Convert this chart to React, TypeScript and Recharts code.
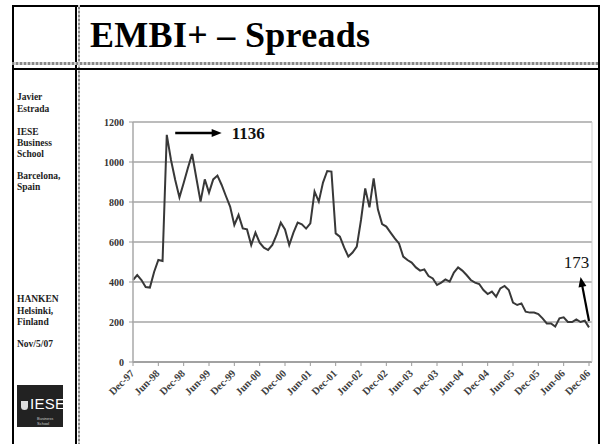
import { LineChart, Line, XAxis, YAxis, CartesianGrid, ReferenceLine } from 'recharts'

// EMBI+ spreads, monthly, Dec-97 .. Dec-06 (bp)
const spreads = [
  410, 435, 410, 375, 372, 450, 510, 505, 1136, 1010,
  910, 823, 895, 970, 1040, 920, 802, 913, 847, 913,
  932, 885, 830, 777, 685, 735, 668, 663, 585, 647,
  597, 572, 560, 585, 635, 697, 663, 585, 647, 697,
  688, 667, 693, 852, 802, 897, 955, 952, 643, 627,
  573, 527, 547, 577, 710, 868, 773, 918, 763, 690,
  677, 647, 618, 593, 527, 510, 497, 473, 457, 463,
  430, 418, 385, 397, 413, 402, 447, 473, 457, 435,
  410, 397, 390, 360, 340, 352, 327, 368, 380, 360,
  297, 285, 293, 252, 247, 247, 240, 218, 193, 193,
  177, 218, 223, 200, 200, 213, 200, 207, 173,
]

const monthNames = ['Jan', 'Feb', 'Mar', 'Apr', 'May', 'Jun', 'Jul', 'Aug', 'Sep', 'Oct', 'Nov', 'Dec']
const yTicks = [0, 200, 400, 600, 800, 1000, 1200]

// Dec-97 is month 11 of 1997
const months = spreads.map((_, i) => {
  const t = 11 + i
  const yr = (97 + Math.floor(t / 12)) % 100
  return `${monthNames[t % 12]}-${String(yr).padStart(2, '0')}`
})

const data = months.map((m, i) => ({ month: m, spread: spreads[i] }))

const peakLabel = '1136'
const lastLabel = '173'

const serif = "'Liberation Serif', 'DejaVu Serif', serif"

const sidebar = [
  { text: 'Javier', top: 92 },
  { text: 'Estrada', top: 104 },
  { text: 'IESE', top: 127 },
  { text: 'Business', top: 138 },
  { text: 'School', top: 149 },
  { text: 'Barcelona,', top: 171 },
  { text: 'Spain', top: 182 },
  { text: 'HANKEN', top: 294 },
  { text: 'Helsinki,', top: 306 },
  { text: 'Finland', top: 317 },
  { text: 'Nov/5/07', top: 339 },
]

const XTick = ({ x, y, payload }: any) => (
  <text
    x={x + 2}
    y={y + 6}
    transform={`rotate(-45 ${x + 2} ${y + 6})`}
    textAnchor="end"
    fontSize={10.5}
    fontWeight="bold"
    fontFamily={serif}
    fill="#404040"
  >
    {payload.value}
  </text>
)

const PeakArrow = (p: any) => (
  <g>
    <line x1={p.x1} y1={p.y1} x2={p.x2 - 8} y2={p.y2} stroke="#000" strokeWidth={2.5} />
    <polygon points={`${p.x2},${p.y2} ${p.x2 - 10},${p.y2 - 4} ${p.x2 - 10},${p.y2 + 4}`} fill="#000" />
    <text x={p.x2 + 10} y={p.y2 + 6} fontSize={17} fontWeight="bold" fontFamily={serif} fill="#111">
      {peakLabel}
    </text>
  </g>
)

const LastArrow = (p: any) => {
  const dx = p.x2 - p.x1
  const dy = p.y2 - p.y1
  const len = Math.sqrt(dx * dx + dy * dy)
  const ux = dx / len
  const uy = dy / len
  const bx = p.x2 - ux * 10
  const by = p.y2 - uy * 10
  return (
    <g>
      <line x1={p.x1} y1={p.y1} x2={p.x2 - ux * 8} y2={p.y2 - uy * 8} stroke="#000" strokeWidth={2.2} />
      <polygon
        points={`${p.x2},${p.y2} ${bx - uy * 4},${by + ux * 4} ${bx + uy * 4},${by - ux * 4}`}
        fill="#000"
      />
      <text x={p.x2 - 4} y={p.y2 - 9} textAnchor="middle" fontSize={17} fontFamily={serif} fill="#111">
        {lastLabel}
      </text>
    </g>
  )
}

export default function App() {
  return (
    <div
      style={{
        position: 'fixed',
        left: 0,
        top: 0,
        width: 602,
        height: 444,
        background: '#fff',
        overflow: 'hidden',
        fontFamily: serif,
      }}
    >
      {/* slide frame */}
      <div style={{ position: 'absolute', left: 12, top: 5, width: 584, height: 460, border: '2px solid #000' }} />
      <div style={{ position: 'absolute', left: 75, top: 5, width: 2, height: 460, background: '#000' }} />
      <div
        style={{
          position: 'absolute',
          left: 78,
          top: 5,
          width: 2,
          height: 460,
          background: 'repeating-linear-gradient(0deg, #888 0 2px, #ccc 2px 4px)',
        }}
      />
      <div
        style={{
          position: 'absolute',
          left: 12,
          top: 62,
          width: 586,
          height: 3,
          background: 'repeating-linear-gradient(90deg, #888 0 2px, #ccc 2px 4px)',
        }}
      />
      <div style={{ position: 'absolute', left: 12, top: 68, width: 586, height: 1.5, background: '#000' }} />

      <div style={{ position: 'absolute', left: 90, top: 14, fontSize: 36, fontWeight: 'bold', color: '#000', whiteSpace: 'nowrap', letterSpacing: 0.3 }}>
        EMBI+ – Spreads
      </div>

      {sidebar.map((s) => (
        <div
          key={s.text}
          style={{ position: 'absolute', left: 17, top: s.top, fontSize: 9.5, fontWeight: 'bold', color: '#222', lineHeight: '11px' }}
        >
          {s.text}
        </div>
      ))}

      {/* IESE logo */}
      <div style={{ position: 'absolute', left: 17, top: 385, width: 46, height: 42, background: '#222' }}>
        <div style={{ position: 'absolute', left: 4, top: 16, width: 7, height: 9, background: '#ddd', borderRadius: '0 0 4px 4px' }} />
        <div
          style={{
            position: 'absolute',
            left: 13,
            top: 10,
            fontFamily: "'Liberation Sans', sans-serif",
            fontSize: 15,
            color: '#fff',
            letterSpacing: 0.3,
          }}
        >
          IESE
        </div>
        <div style={{ position: 'absolute', left: 20, top: 31, fontSize: 4, color: '#ccc', fontFamily: 'sans-serif' }}>
          Business School
        </div>
      </div>

      <div style={{ position: 'absolute', left: 0, top: 0 }}>
        <LineChart width={602} height={444} data={data} margin={{ top: 122, right: 9, bottom: 32, left: 93 }}>
          <CartesianGrid vertical={false} stroke="#bcbcbc" strokeWidth={2} />
          <XAxis
            dataKey="month"
            interval={5}
            height={50}
            padding={{ left: 0, right: 3 }}
            tick={<XTick />}
            tickSize={4}
            axisLine={{ stroke: '#9a9a9a', strokeWidth: 1.5 }}
            tickLine={{ stroke: '#9a9a9a' }}
          />
          <YAxis
            domain={[0, 1200]}
            ticks={yTicks}
            width={40}
            tickSize={4}
            tickMargin={5}
            tick={{ fontSize: 10, fontWeight: 'bold', fill: '#333', fontFamily: serif }}
            axisLine={{ stroke: '#a8a8a8', strokeWidth: 1.5 }}
            tickLine={{ stroke: '#9a9a9a' }}
          />
          <YAxis
            yAxisId="frame"
            orientation="right"
            width={1}
            tick={false}
            tickLine={false}
            axisLine={{ stroke: '#cfcfcf' }}
          />
          <Line
            type="linear"
            dataKey="spread"
            stroke="#383838"
            strokeWidth={2}
            dot={false}
            isAnimationActive={false}
          />
          <ReferenceLine
            segment={[
              { x: months[10], y: 1145 },
              { x: months[21], y: 1145 },
            ]}
            shape={PeakArrow}
          />
          <ReferenceLine
            segment={[
              { x: months[108], y: 205 },
              { x: months[106], y: 425 },
            ]}
            shape={LastArrow}
          />
        </LineChart>
      </div>
    </div>
  )
}
